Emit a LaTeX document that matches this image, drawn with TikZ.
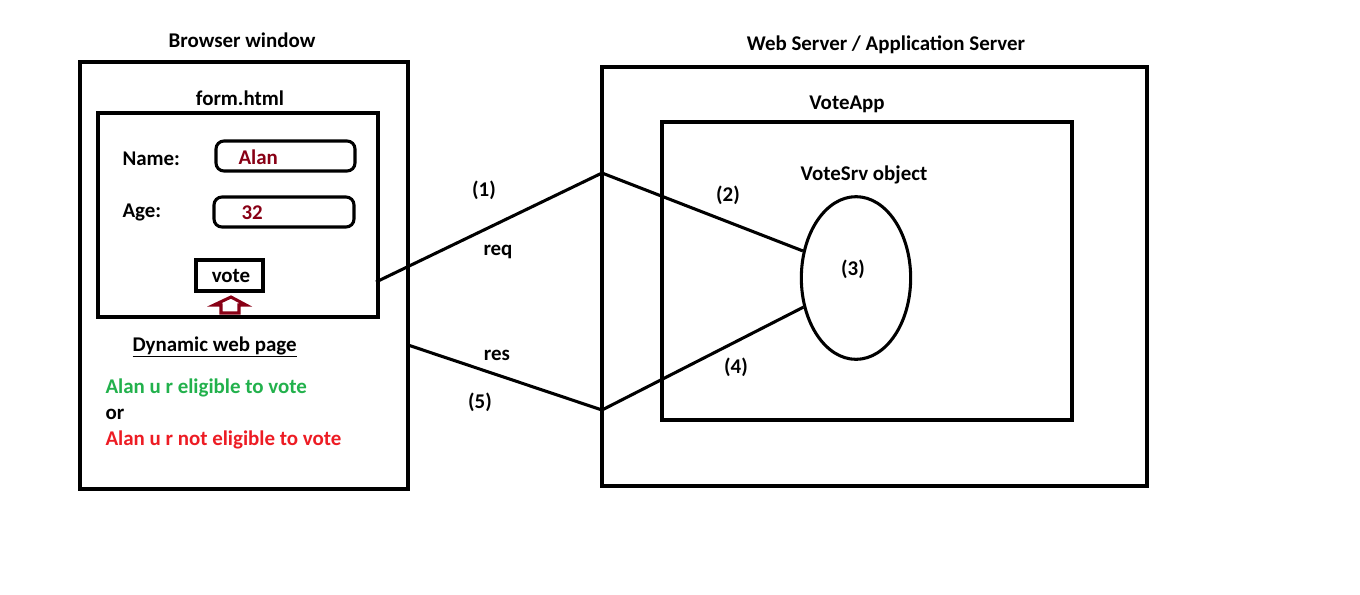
\documentclass[tikz,border=0pt]{standalone}
\usepackage{fontspec}
\setmainfont{Carlito}
\usetikzlibrary{shapes.geometric,fit}
\definecolor{darkred}{RGB}{136,0,21}
\definecolor{okgreen}{RGB}{34,177,76}
\definecolor{nored}{RGB}{237,28,36}
\begin{document}
\begin{tikzpicture}[x=0.75pt,y=-0.75pt,line width=2.3pt,
  box/.style={draw,line width=2.3pt,inner sep=0pt},
  field/.style={draw,line width=2.3pt,inner sep=0pt,rounded corners=6pt},
  lbl/.style={font=\bfseries\fontsize{15.7}{18}\selectfont,inner sep=0pt},
  link/.style={draw,line width=2.3pt}]
\useasboundingbox (0,0) rectangle (1360,594);
% browser side
\node[lbl] (browsertitle) at (242,40) {Browser window};
\node[box,fit={(80,62)(408,489)}] (browser) {};
\node[lbl] (formtitle) at (240,98) {form.html};
\node[box,fit={(98,113)(378,317)}] (form) {};
\node[lbl,anchor=west] (namelbl) at (121,159) {Name:};
\node[field,fit={(216,141)(355,171)}] (namebox) {};
\node[lbl,anchor=west,text=darkred] (nameval) at (237,157) {Alan};
\node[lbl,anchor=west] (agelbl) at (121,212) {Age:};
\node[field,fit={(214,197)(354,227)}] (agebox) {};
\node[lbl,anchor=west,text=darkred] (ageval) at (240,213) {32};
\node[box,fit={(196,260)(263,291)}] (votebox) {};
\node[lbl] (votetxt) at (231,276) {vote};
\draw[darkred,line width=2.3pt,line join=miter]
  (231,297) -- (246,305) -- (239,305) -- (239,313) -- (221,313) -- (221,305) -- (214,305) -- cycle;
\node[lbl,anchor=west] (dyn) at (131,347) {\underline{Dynamic web page}};
\node[lbl,anchor=west,text=okgreen] (ok) at (104,388) {Alan u r eligible to vote};
\node[lbl,anchor=west] (or) at (104,414) {or};
\node[lbl,anchor=west,text=nored] (no) at (104,440) {Alan u r not eligible to vote};
% server side
\node[lbl] (servertitle) at (886,45) {Web Server / Application Server};
\node[box,fit={(602,67)(1147,486)}] (server) {};
\node[lbl] (apptitle) at (847,104) {VoteApp};
\node[box,fit={(662,122)(1072,420)}] (app) {};
\node[lbl] (objtitle) at (864,175) {VoteSrv object};
\node[draw,ellipse,line width=2.3pt,inner sep=0pt,minimum width=82pt,minimum height=122pt] (obj) at (856,278) {};
\node[lbl] (n3) at (853,269) {(3)};
% connectors
\coordinate (reqstart) at (376,282);
\coordinate (reqmid) at (602,173);
\coordinate (resstart) at (408,345);
\coordinate (resmid) at (602,410);
\draw[link] (reqstart) -- (reqmid) -- (obj.153);
\draw[link] (resstart) -- (resmid) -- (obj.209);
\node[lbl] (n1) at (484,190) {(1)};
\node[lbl] (req) at (498,252) {req};
\node[lbl] (n2) at (728,195) {(2)};
\node[lbl] (res) at (497,355) {res};
\node[lbl] (n5) at (480,402) {(5)};
\node[lbl] (n4) at (736,367) {(4)};
\end{tikzpicture}
\end{document}
